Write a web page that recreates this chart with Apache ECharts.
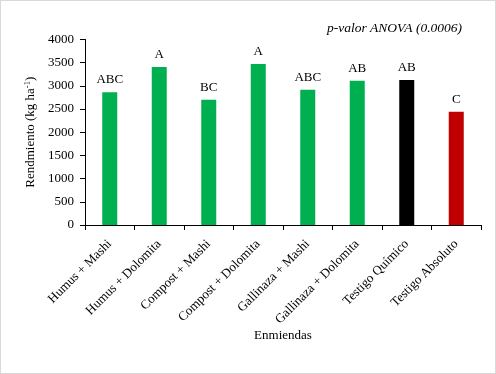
<!DOCTYPE html>
<html><head><meta charset="utf-8">
<script src="https://cdn.jsdelivr.net/npm/echarts@6/dist/echarts.min.js"></script>
<style>html,body{margin:0;padding:0;background:#fff}#c{width:494px;height:372px;border:1px solid #d9d9d9}</style>
</head><body><div id="c"></div>
<script>
var categories = ["Humus + Mashi","Humus + Dolomita","Compost + Mashi","Compost + Dolomita","Gallinaza + Mashi","Gallinaza + Dolomita","Testigo Químico","Testigo Absoluto"];
var values = [2865, 3405, 2700, 3470, 2915, 3110, 3125, 2440];
var letters = ["ABC","A","BC","A","ABC","AB","AB","C"];
var colors = ["#00B050","#00B050","#00B050","#00B050","#00B050","#00B050","#000000","#C00000"];
var yTicks = [0,500,1000,1500,2000,2500,3000,3500,4000];
var font = "'Liberation Serif','Times New Roman',serif";
var chart = echarts.init(document.getElementById('c'));
chart.setOption({
  animation:false,
  textStyle:{fontFamily:font,color:'#000'},
  title:{text:'p-valor ANOVA (0.0006)',right:28,top:15,textStyle:{fontFamily:font,fontStyle:'italic',fontWeight:'normal',fontSize:13.5,color:'#000'}},
  grid:{left:84,right:14,top:38.5,bottom:148},
  xAxis:{type:'category',data:categories,
    axisLine:{lineStyle:{color:'#000'}},
    axisTick:{show:true,alignWithLabel:false,length:5,lineStyle:{color:'#000'}},
    axisLabel:{rotate:45,interval:0,fontFamily:font,fontSize:13,color:'#000',margin:17},
    name:'Enmiendas',nameLocation:'middle',nameGap:103,nameTextStyle:{fontFamily:font,fontSize:13,color:'#000'}},
  yAxis:{type:'value',min:0,max:4000,interval:500,
    axisLine:{show:true,lineStyle:{color:'#000'}},
    axisTick:{show:true,length:5,lineStyle:{color:'#000'}},
    splitLine:{show:false},
    axisLabel:{fontFamily:font,fontSize:13,color:'#000',margin:11,formatter:function(v){return yTicks.indexOf(v)>=0?String(v):'';}},
    name:'{a|Rendmiento (kg ha}{s|-1}{a|)}',nameLocation:'middle',nameGap:45,nameRotate:90,
    nameTextStyle:{rich:{a:{fontFamily:font,fontSize:13,color:'#000'},s:{fontFamily:font,fontSize:8.5,color:'#000',verticalAlign:'top',padding:[0,0,6,0]}}}},
  series:[{type:'bar',barWidth:15,
    data:values.map(function(v,i){return {value:v,itemStyle:{color:colors[i]},label:{formatter:letters[i]}};}),
    label:{show:true,position:'top',distance:6,fontFamily:font,fontSize:13,color:'#000'}}]
});
</script></body></html>
